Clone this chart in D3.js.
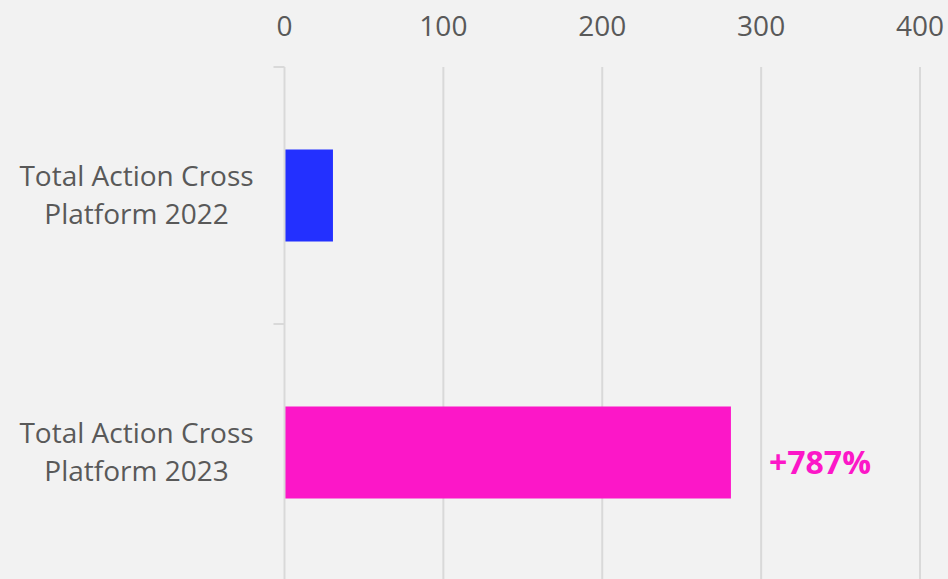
<!DOCTYPE html>
<html><head><meta charset="utf-8">
<script src="https://cdn.jsdelivr.net/npm/d3@7"></script>
<style>
html,body{margin:0;padding:0;background:#f2f2f2;}
svg{display:block;}
text{font-family:"Open Sans",sans-serif;}
</style></head>
<body>
<script>
const categories = [["Total Action Cross","Platform 2022"],["Total Action Cross","Platform 2023"]];
const values = [30.5, 281];
const barColors = ["#2330ff","#fc17c8"];
const xTicks = [0,100,200,300,400];
const annotation = {index:1, text:"+787%"};

const W=948,H=579;
const svg=d3.select("body").append("svg").attr("width",W).attr("height",H);
svg.append("rect").attr("width",W).attr("height",H).attr("fill","#f2f2f2");

const x=d3.scaleLinear().domain([0,400]).range([284.5,920]);
const y=d3.scaleBand().domain(d3.range(categories.length)).range([67,581]).paddingInner(0.642).paddingOuter(0.321);

// gridlines
svg.append("g").selectAll("line").data(xTicks.slice(1)).join("line")
  .attr("x1",d=>x(d)).attr("x2",d=>x(d)).attr("y1",67).attr("y2",H)
  .attr("stroke","#d9d9d9").attr("stroke-width",2);

// top tick labels
svg.append("g").selectAll("text").data(xTicks).join("text")
  .attr("x",d=>x(d)).attr("y",36).attr("text-anchor","middle")
  .attr("font-size",28).attr("fill","#595959").text(d=>d);

// bars
svg.append("g").selectAll("rect").data(values).join("rect")
  .attr("x",x(0)).attr("y",(d,i)=>y(i)).attr("width",d=>x(d)-x(0)).attr("height",y.bandwidth())
  .attr("fill",(d,i)=>barColors[i]);

// category axis
svg.append("line").attr("x1",x(0)).attr("x2",x(0)).attr("y1",67).attr("y2",H)
  .attr("stroke","#d9d9d9").attr("stroke-width",2);
const bounds=d3.range(categories.length+1).map(i=>67+i*y.step());
svg.append("g").selectAll("line").data(bounds).join("line")
  .attr("x1",x(0)-11).attr("x2",x(0)).attr("y1",d=>d).attr("y2",d=>d)
  .attr("stroke","#d9d9d9").attr("stroke-width",2);

// category labels
const lab=svg.append("g").selectAll("text").data(categories).join("text")
  .attr("text-anchor","middle").attr("font-size",28).attr("fill","#595959");
lab.each(function(d,i){
  const cy=y(i)+y.bandwidth()/2;
  d3.select(this).selectAll("tspan").data(d).join("tspan")
    .attr("x",136.5).attr("y",(t,j)=>cy-10+j*38).text(t=>t);
});

// annotation
svg.append("text").attr("x",x(values[annotation.index])+38)
  .attr("y",y(annotation.index)+y.bandwidth()/2+21)
  .attr("font-size",32).attr("font-weight","bold").attr("fill","#fc17c8")
  .text(annotation.text);
</script>
</body></html>
